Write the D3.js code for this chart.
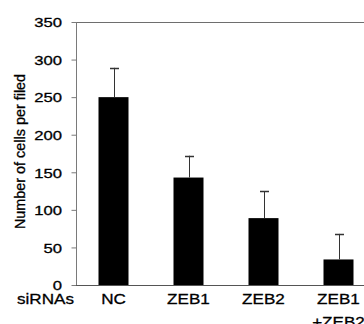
<!DOCTYPE html>
<html><head><meta charset="utf-8">
<script src="https://cdn.jsdelivr.net/npm/d3@7"></script>
<style>body{margin:0;background:#fff}svg{display:block}text{font-family:"Liberation Sans",Arial,sans-serif;fill:#000;stroke:#000;stroke-width:0.3px}</style>
</head><body>
<script>
const categories = ["NC", "ZEB1", "ZEB2", "ZEB1\n+ZEB2"];
const means = [250, 143, 89, 34];
const errUpper = [289, 172, 125, 68];
const yTicks = [0, 50, 100, 150, 200, 250, 300, 350];
const yLabel = "Number of cells per filed";
const groupLabel = "siRNAs";

const W = 364, H = 324;
const svg = d3.select("body").append("svg").attr("width", W).attr("height", H);

const x = d3.scaleBand().domain(categories).range([76, 376]).paddingInner(0.6).paddingOuter(0.3);
const y = d3.scaleLinear().domain([0, 350]).range([285, 22]);

// frame top line
svg.append("line").attr("x1", 76).attr("x2", W).attr("y1", y(350) + 0.5).attr("y2", y(350) + 0.5)
  .attr("stroke", "#6e6e6e").attr("stroke-width", 1);

// bars
svg.selectAll("rect.bar").data(categories).join("rect")
  .attr("x", d => x(d)).attr("width", x.bandwidth())
  .attr("y", (d, i) => y(means[i])).attr("height", (d, i) => y(0) - y(means[i]))
  .attr("fill", "#000");

// error bars
const cx = d => Math.round(x(d) + x.bandwidth() / 2) + 0.5;
svg.selectAll("line.err").data(categories).join("line")
  .attr("x1", cx).attr("x2", cx)
  .attr("y1", (d, i) => y(means[i])).attr("y2", (d, i) => y(errUpper[i]))
  .attr("stroke", "#333").attr("stroke-width", 1);
svg.selectAll("line.cap").data(categories).join("line")
  .attr("x1", d => cx(d) - 4.5).attr("x2", d => cx(d) + 4.5)
  .attr("y1", (d, i) => Math.round(y(errUpper[i])) + 0.5).attr("y2", (d, i) => Math.round(y(errUpper[i])) + 0.5)
  .attr("stroke", "#333").attr("stroke-width", 1.5);

// y axis
const yAxis = svg.append("g").attr("transform", "translate(76.5,0)")
  .call(d3.axisLeft(y).tickValues(yTicks).tickSize(5).tickPadding(0).tickFormat(d3.format("d")));
yAxis.select(".domain").attr("stroke", "#7a7a7a").attr("d", `M0,${y(350)}V${y(0)}`);
yAxis.selectAll(".tick line").attr("stroke", "#7a7a7a");
yAxis.selectAll(".tick text").attr("x", null).attr("dy", null)
  .attr("text-anchor", "end").attr("dominant-baseline", "central")
  .style("font-size", "13px").attr("fill", "#000")
  .attr("transform", "translate(-14.5,0) scale(1.28,1)");

// x axis baseline
svg.append("line").attr("x1", 76).attr("x2", W).attr("y1", y(0) + 0.5).attr("y2", y(0) + 0.5)
  .attr("stroke", "#555").attr("stroke-width", 1);

// category labels
categories.forEach(c => {
  const lines = c.split("\n");
  lines.forEach((t, j) => {
    svg.append("text")
      .attr("transform", `translate(${x(c) + x.bandwidth() / 2},${304 + j * 23}) scale(1.14,1)`)
      .attr("text-anchor", "middle").style("font-size", "15px").text(t);
  });
});

// group label
svg.append("text").attr("transform", "translate(74,304) scale(1.14,1)")
  .attr("text-anchor", "end").style("font-size", "15px").text(groupLabel);

// y label
svg.append("text").attr("transform", `translate(25,${151.5}) rotate(-90)`)
  .attr("text-anchor", "middle").style("font-size", "14.4px").text(yLabel);
</script>
</body></html>
